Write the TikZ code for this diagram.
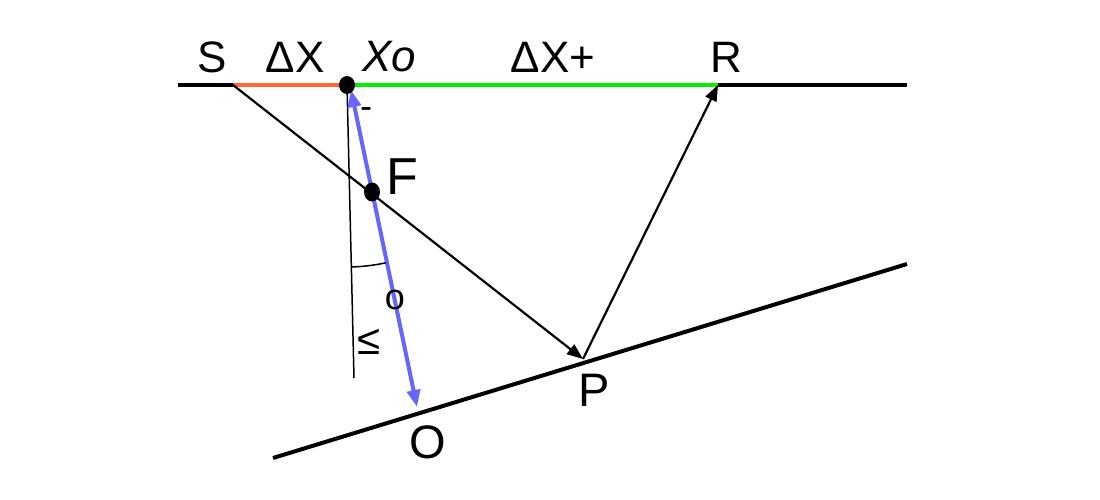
\documentclass[tikz,border=0pt]{standalone}
\usepackage{fontspec}
\setmainfont{Liberation Sans}
\usetikzlibrary{arrows.meta}
\definecolor{rayorange}{RGB}{255,102,51}
\definecolor{raygreen}{RGB}{0,240,0}
\definecolor{rayblue}{RGB}{102,102,255}

\begin{document}
\begin{tikzpicture}[x=1pt, y=-1pt,
  lbl/.style={inner sep=0pt, font=\fontsize{44}{44}\selectfont},
  small/.style={inner sep=0pt, font=\fontsize{36}{36}\selectfont},
  ray/.style={line width=2.2pt, -{Triangle[length=16pt,width=12pt]}},
  normal/.style={line width=1.5pt}]
\useasboundingbox (0,0) rectangle (1100,500);
% surface and reflector
\coordinate (W) at (178,85);
\coordinate (E) at (907,85);
\coordinate (S) at (233,85);
\coordinate (Xo) at (347,85);
\coordinate (R) at (718,85);
\coordinate (P) at (583,359);
\coordinate (L1) at (273,458);
\coordinate (L2) at (907,264);
\coordinate (V) at (354,378);
\coordinate (Bt) at (351,90);
\coordinate (Bb) at (417,407);
\coordinate (F) at (372,192);
\draw[line width=3.5pt] (W) -- (S);
\draw[line width=3.5pt, rayorange] (S) -- (Xo);
\draw[line width=3.5pt, raygreen] (Xo) -- (R);
\draw[line width=3.5pt] (R) -- (E);
\draw[line width=4pt] (L1) -- (L2);
% rays
\draw[ray] (S) -- (P);
\draw[ray] (P) -- (R);
\draw[normal] (Xo) -- (V);
\draw[line width=4pt, rayblue, {Triangle[length=17pt,width=13pt]}-{Triangle[length=17pt,width=13pt]}] (Bt) -- (Bb);
\draw[normal] (Xo) ++(88.6:182) arc[start angle=88.6, end angle=77.7, radius=182];
\fill (Xo) ellipse (8 and 9);
\fill (F) ellipse (8 and 9.5);
% labels
\node[lbl] (labS) at (212,57) {S};
\node[lbl] (labdX) at (295,57) {ΔX};
\node[lbl] (labXo) at (389,57) {\textit{Xo}};
\node[lbl] (labdXp) at (553,57) {ΔX+};
\node[lbl] (labR) at (726,57) {R};
\node[inner sep=0pt, font=\fontsize{52}{52}\selectfont] (labF) at (402,177) {F};
\node[inner sep=0pt, font=\fontsize{47}{47}\selectfont] (labP) at (594,390) {P};
\node[inner sep=0pt, font=\fontsize{47}{47}\selectfont] (labO) at (428,442) {O};
\node[small] (labminus) at (366,113) {-};
\node[small] (labo) at (395,300) {o};
\node[inner sep=0pt, font=\fontsize{42}{42}\selectfont] (lble) at (369,342) {≤};
\end{tikzpicture}
\end{document}
